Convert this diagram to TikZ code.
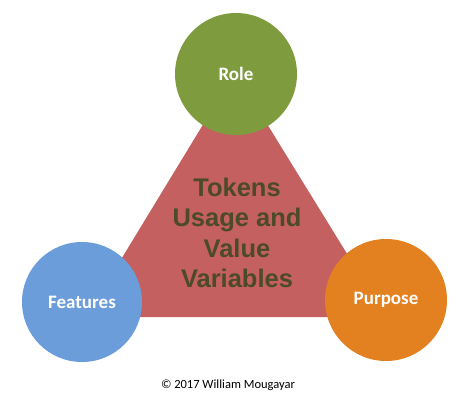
\documentclass[tikz,border=0pt]{standalone}
\usepackage{fontspec}
\setmainfont{Carlito}
\newfontfamily\arialfont{Liberation Sans}
\definecolor{trired}{RGB}{196,96,95}
\definecolor{rolegreen}{RGB}{126,155,62}
\definecolor{featblue}{RGB}{108,157,219}
\definecolor{purporange}{RGB}{227,128,32}
\definecolor{olivetext}{RGB}{76,74,42}
\tikzset{
  bubble/.style={circle, minimum size=122pt, inner sep=0pt, text=white,
    font=\bfseries\fontsize{19}{22}\selectfont},
  centertext/.style={align=center, text=olivetext,
    font=\arialfont\bfseries\fontsize{25.5}{30.5}\selectfont},
  credit/.style={font=\fontsize{12.5}{15}\selectfont, text=black}
}
\begin{document}
\begin{tikzpicture}[x=1pt,y=-1pt]
\useasboundingbox[fill=white] (0,0) rectangle (474,413);
\coordinate (apex) at (235,72);
\coordinate (bl) at (86,317);
\coordinate (br) at (386,317);
\fill[trired] (apex) -- (bl) -- (br) -- cycle;
\node[centertext] (tokens) at (237,233) {Tokens\\Usage and\\Value\\Variables};
\node[bubble, fill=rolegreen] (role) at (236,74) {Role};
\node[bubble, fill=featblue, minimum size=120pt] (features) at (82,302) {Features};
\node[bubble, fill=purporange] (purpose) at (386,300) {Purpose};
\node[credit] (copy) at (228,385) {© 2017 William Mougayar};
\end{tikzpicture}
\end{document}
